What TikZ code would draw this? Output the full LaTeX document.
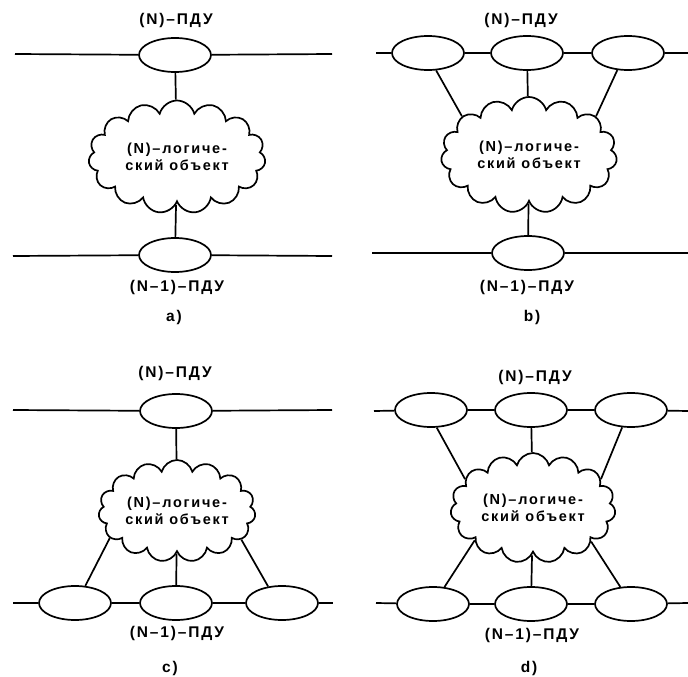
\documentclass[tikz,border=0pt]{standalone}
\usepackage{fontspec}
\setmainfont{Liberation Sans}[LetterSpace=12]
\usetikzlibrary{shapes.geometric,shapes.symbols}

\begin{document}
\begin{tikzpicture}[x=1pt,y=-1pt,line width=1.7pt,
    pdu/.style={draw,ellipse,fill=white,minimum width=72pt,minimum height=34pt,inner sep=0pt},
    entity/.style={draw,cloud,cloud puffs=15,cloud puff arc=150,cloud ignores aspect,
      align=center,inner sep=0pt,font=\fontsize{14.5}{17}\selectfont\bfseries},
    lbl/.style={font=\fontsize{15.5}{17}\selectfont\bfseries}]
  \useasboundingbox (0,0) rectangle (688,677);

  % a)
  \node[lbl] (aNt) at (176,20) {(N)–ПДУ};
  \node[pdu] (aT) at (175,55) {};
  \node[entity,minimum width=177pt,minimum height=113pt] (aC) at (177,157) {(N)–логиче-\\ский объект};
  \node[pdu] (aB) at (175,255) {};
  \node[lbl] (aNb) at (177,287) {(N–1)–ПДУ};
  \node[lbl] (aCap) at (174,317) {a)};
  \coordinate (aT1) at (15,54);  \coordinate (aT2) at (332,54);
  \coordinate (aB1) at (13,256); \coordinate (aB2) at (332,256);
  \draw (aT1) -- (aT) -- (aT2);
  \draw (aB1) -- (aB) -- (aB2);
  \draw (aT) -- (aC);
  \draw (aC) -- (aB);

  % b)
  \node[lbl] (bNt) at (521,20) {(N)–ПДУ};
  \node[pdu] (bL) at (428,53) {};
  \node[pdu] (bM) at (527,53) {};
  \node[pdu] (bR) at (628,53) {};
  \node[entity,minimum width=176pt,minimum height=116pt] (bC) at (529,155) {(N)–логиче-\\ский объект};
  \node[pdu] (bB) at (528,253) {};
  \node[lbl] (bNb) at (527,287) {(N–1)–ПДУ};
  \node[lbl] (bCap) at (532,317) {b)};
  \coordinate (bT1) at (376,53); \coordinate (bT2) at (688,53);
  \coordinate (bB1) at (372,253); \coordinate (bB2) at (688,253);
  \draw (bT1) -- (bL) -- (bM) -- (bR) -- (bT2);
  \draw (bB1) -- (bB) -- (bB2);
  \draw (bL.-65) -- (bC.150);
  \draw (bM) -- (bC);
  \draw (bR.-122) -- (bC.30);
  \draw (bC) -- (bB);

  % c)
  \node[lbl] (cNt) at (175,373) {(N)–ПДУ};
  \node[pdu] (cT) at (176,411) {};
  \node[entity,minimum width=157pt,minimum height=102pt] (cC) at (177,511) {(N)–логиче-\\ский объект};
  \node[pdu] (cL) at (75,603) {};
  \node[pdu] (cM) at (176,603) {};
  \node[pdu] (cR) at (282,603) {};
  \node[lbl] (cNb) at (177,633) {(N–1)–ПДУ};
  \node[lbl] (cCap) at (170,668) {c)};
  \coordinate (cT1) at (13,410); \coordinate (cT2) at (332,410);
  \coordinate (cB1) at (13,603); \coordinate (cB2) at (333,603);
  \draw (cT1) -- (cT) -- (cT2);
  \draw (cB1) -- (cL) -- (cM) -- (cR) -- (cB2);
  \draw (cT) -- (cC);
  \draw (cC.202) -- (cL.59);
  \draw (cC) -- (cM);
  \draw (cC.-24) -- (cR.130);

  % d)
  \node[lbl] (dNt) at (535,377) {(N)–ПДУ};
  \node[pdu] (dL1) at (431,410) {};
  \node[pdu] (dM1) at (531,410) {};
  \node[pdu] (dR1) at (631,410) {};
  \node[entity,minimum width=165pt,minimum height=110pt] (dC) at (533,508) {(N)–логиче-\\ский объект};
  \node[pdu] (dL2) at (433,604) {};
  \node[pdu] (dM2) at (531,604) {};
  \node[pdu] (dR2) at (631,604) {};
  \node[lbl] (dNb) at (532,635) {(N–1)–ПДУ};
  \node[lbl] (dCap) at (529,668) {d)};
  \coordinate (dT1) at (374,411); \coordinate (dT2) at (688,411);
  \coordinate (dB1) at (376,603); \coordinate (dB2) at (688,603);
  \draw (dT1) -- (dL1) -- (dM1) -- (dR1) -- (dT2);
  \draw (dB1) -- (dL2) -- (dM2) -- (dR2) -- (dB2);
  \draw (dL1.-72) -- (dC.157);
  \draw (dM1) -- (dC);
  \draw (dR1.-117) -- (dC.23);
  \draw (dC.209) -- (dL2.56);
  \draw (dC) -- (dM2);
  \draw (dC.-30) -- (dR2.122);
\end{tikzpicture}
\end{document}
